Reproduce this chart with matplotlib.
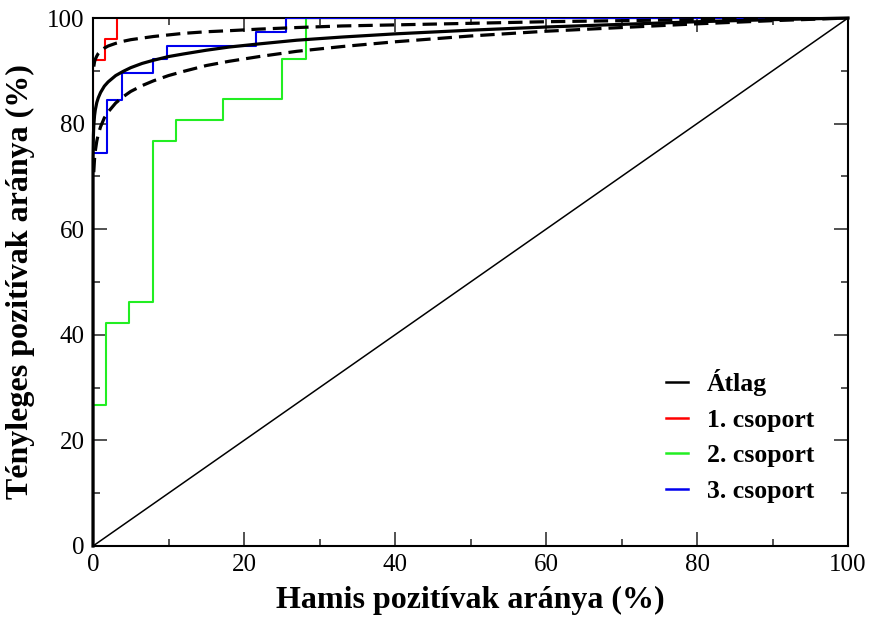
import matplotlib
matplotlib.use("Agg")
import matplotlib.pyplot as plt
from matplotlib.ticker import MultipleLocator

plt.rcParams['font.family'] = ['Liberation Serif', 'DejaVu Serif']

# group ROC curves (false positive %, true positive %), step style
red_fpr = [0, 0, 1.6, 3.2, 100]
red_tpr = [0, 92.0, 96.0, 100, 100]

green_fpr = [0, 0, 1.7, 4.7, 7.9, 11.0, 17.2, 25.0, 28.2, 100]
green_tpr = [0, 26.7, 42.2, 46.2, 76.8, 80.6, 84.6, 92.2, 100, 100]

blue_fpr = [0, 0, 1.9, 3.9, 7.9, 9.8, 21.6, 25.6, 100]
blue_tpr = [0, 74.4, 84.5, 89.6, 92.2, 94.7, 97.4, 100, 100]

# average curve and its band
avg_fpr = [0, 0, 0.05, 0.1, 0.2, 0.3, 0.5, 0.7, 1, 1.5, 2, 3, 4, 5, 6.5, 8, 10,
           12, 15, 18, 22, 27, 33, 40, 50, 60, 70, 80, 90, 100]
avg_tpr = [0, 73.0, 77.8, 79.6, 81.5, 82.6, 84.0, 84.9, 85.9, 87.1, 87.9, 89.1,
           89.9, 90.6, 91.4, 92.0, 92.7, 93.2, 93.9, 94.5, 95.1, 95.8, 96.4,
           97.0, 97.7, 98.3, 98.8, 99.3, 99.7, 100]

band_fpr = [0.1, 0.2, 0.3, 0.5, 0.7, 1, 1.5, 2, 3, 4, 5, 6.5, 8, 10, 12, 15,
            18, 22, 27, 33, 40, 50, 60, 70, 80, 90, 100]
upper_tpr = [90.8, 91.7, 92.2, 92.8, 93.3, 93.8, 94.3, 94.7, 95.2, 95.6, 95.9,
             96.2, 96.5, 96.8, 97.1, 97.4, 97.6, 97.9, 98.2, 98.5, 98.7, 99.0,
             99.3, 99.5, 99.7, 99.85, 100]
lower_tpr = [70.8, 73.3, 74.8, 76.7, 78.0, 79.4, 81.1, 82.2, 83.9, 85.1, 86.1,
             87.2, 88.1, 89.1, 89.9, 91.0, 91.8, 92.7, 93.7, 94.6, 95.5, 96.6,
             97.5, 98.2, 98.9, 99.5, 100]

fig = plt.figure(figsize=(8.71, 6.26), dpi=100)
ax = fig.add_axes([0.1068, 0.1278, 0.8668, 0.8434])

# chance line
ax.plot([0, 100], [0, 100], color='black', lw=1.1, zorder=1)

ax.plot(avg_fpr, avg_tpr, color='black', lw=2.3, label='Átlag', zorder=5,
        clip_on=False)
ax.plot(band_fpr, upper_tpr, color='black', lw=2.3, ls=(0, (4.5, 2.2)), zorder=5)
ax.plot(band_fpr, lower_tpr, color='black', lw=2.3, ls=(0, (4.5, 2.2)), zorder=5)

ax.plot(red_fpr, red_tpr, drawstyle='steps-post', color='#ff0000', lw=1.5,
        label='1. csoport', zorder=2)
ax.plot(green_fpr, green_tpr, drawstyle='steps-post', color='#22ee22', lw=1.5,
        label='2. csoport', zorder=3)
ax.plot(blue_fpr, blue_tpr, drawstyle='steps-post', color='#0000ee', lw=1.5,
        label='3. csoport', zorder=4)

ax.set_xlim(0, 100)
ax.set_ylim(0, 100)
ax.xaxis.set_major_locator(MultipleLocator(20))
ax.xaxis.set_minor_locator(MultipleLocator(10))
ax.yaxis.set_major_locator(MultipleLocator(20))
ax.yaxis.set_minor_locator(MultipleLocator(10))
ax.tick_params(which='both', direction='in', top=True, right=True, width=1.2,
               color='#333333')
ax.tick_params(which='major', length=10, labelsize=18, pad=6)
ax.tick_params(which='minor', length=5)
for sp in ax.spines.values():
    sp.set_linewidth(1.5)

ax.set_xlabel('Hamis pozitívak aránya (%)', fontsize=23, fontweight='bold',
              labelpad=7)
ax.set_ylabel('Tényleges pozitívak aránya (%)', fontsize=23, fontweight='bold',
              labelpad=9)

leg = ax.legend(loc='upper left', bbox_to_anchor=(0.742, 0.36), frameon=False,
                prop={'size': 18.5, 'weight': 'bold'}, handlelength=0.85,
                handletextpad=0.75, labelspacing=0.5, borderpad=0)
for h in leg.get_lines():
    h.set_linewidth(1.8)

fig.savefig('out.png', dpi=100)
